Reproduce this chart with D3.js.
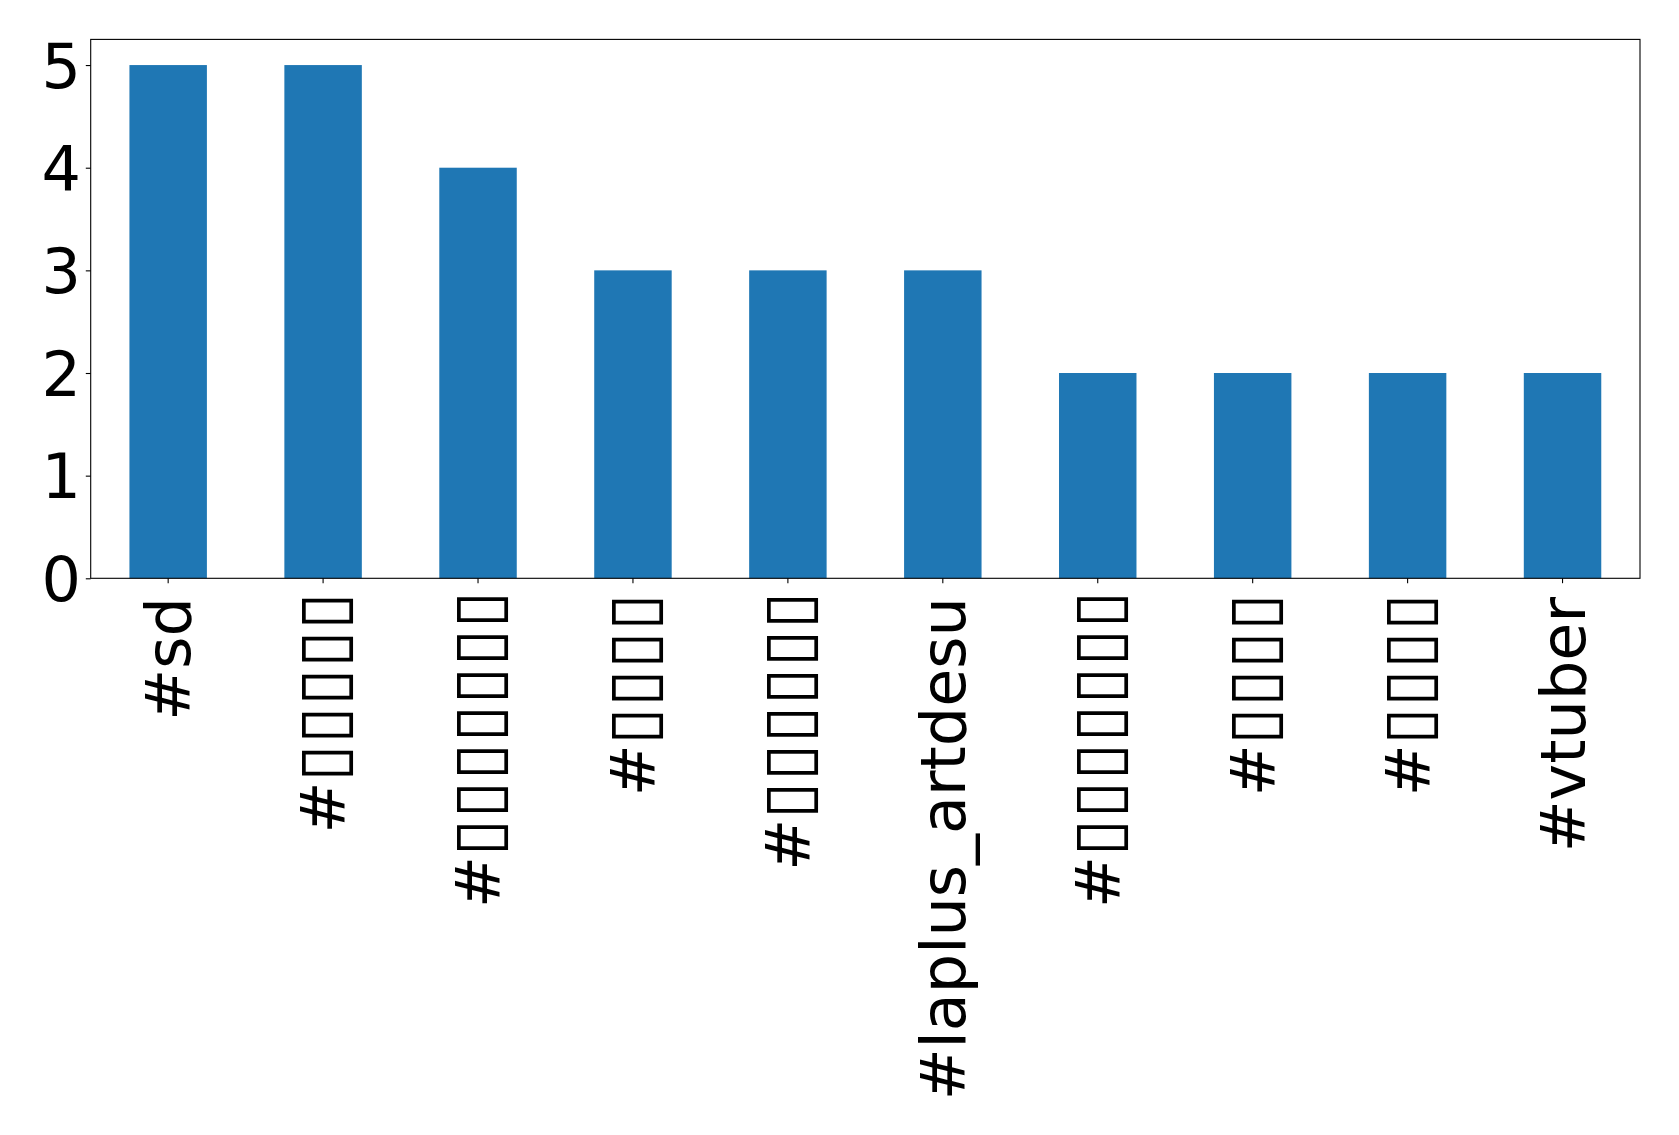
<!DOCTYPE html>
<html>
<head>
<meta charset="utf-8">
<script src="https://cdn.jsdelivr.net/npm/d3@7"></script>
<style>
  html, body { margin: 0; padding: 0; background: #fff; }
  svg { display: block; }
  text { font-family: "DejaVu Sans", sans-serif; fill: #000; }
</style>
</head>
<body>
<script>
const categories = ["#sd", "#▯▯▯▯▯", "#▯▯▯▯▯▯▯", "#▯▯▯▯", "#▯▯▯▯▯▯", "#laplus_artdesu", "#▯▯▯▯▯▯▯", "#▯▯▯▯", "#▯▯▯▯", "#vtuber"];
const values = [5, 5, 4, 3, 3, 3, 2, 2, 2, 2];
const yTicks = [0, 1, 2, 3, 4, 5];

const W = 1679, H = 1135;
const margin = { left: 90.7, right: 39, top: 39.4, bottom: H - 578.3 };
const iw = W - margin.left - margin.right;
const ih = H - margin.top - margin.bottom;
const fontSize = 62;
const boxFont = 67;
const tickLen = 4.9, tickPad = 4.9;
const labelOffset = tickLen + tickPad + 9;

const svg = d3.select("body").append("svg").attr("width", W).attr("height", H);
const g = svg.append("g").attr("transform", `translate(${margin.left},${margin.top})`);

const x = d3.scaleBand().domain(d3.range(categories.length)).range([0, iw]).paddingInner(0.5).paddingOuter(0.25);
const y = d3.scaleLinear().domain([0, 5.25]).range([ih, 0]);

g.selectAll("rect.bar").data(values).join("rect")
  .attr("class", "bar")
  .attr("x", (d, i) => x(i))
  .attr("width", x.bandwidth())
  .attr("y", d => y(d))
  .attr("height", d => y(0) - y(d))
  .attr("fill", "#1f77b4");

const yAxis = g.append("g").call(d3.axisLeft(y).tickValues(yTicks).tickFormat(d3.format("d")).tickSize(tickLen).tickPadding(tickPad));
yAxis.select(".domain").remove();
yAxis.selectAll("line").attr("stroke", "#000").attr("stroke-width", 1.1);
yAxis.selectAll("text").style("font-size", fontSize + "px").attr("font-family", "DejaVu Sans").attr("dy", "0.36em");

const xAxis = g.append("g").attr("transform", `translate(0,${ih})`)
  .call(d3.axisBottom(x).tickFormat(i => categories[i]).tickSize(tickLen).tickPadding(tickPad));
xAxis.select(".domain").remove();
xAxis.selectAll("line").attr("stroke", "#000").attr("stroke-width", 1.1);

// measure the box glyph so that each box advances like a missing-glyph box
const probe = svg.append("text").style("font-size", boxFont + "px").attr("font-family", "DejaVu Sans").text("▯▯▯▯▯▯▯▯▯▯");
const boxAdv = probe.node().getComputedTextLength() / 10;
probe.remove();
const extra = 0.8;
const boxSpacing = 0.6 * fontSize + extra - boxAdv;

xAxis.selectAll("text").each(function (i) {
  const t = d3.select(this);
  const label = categories[i];
  const m = label.match(/^(#)(▯+)$/);
  const off = m ? labelOffset - m[2].length * extra - 1.5 : labelOffset;
  t.text(null)
    .style("font-size", fontSize + "px")
    .attr("font-family", "DejaVu Sans")
    .attr("transform", "rotate(-90)")
    .attr("x", -off)
    .attr("y", 0)
    .attr("dy", "0.36em")
    .style("text-anchor", "end");
  if (m) {
    t.append("tspan").text(m[1]);
    t.append("tspan").style("font-size", boxFont + "px").style("letter-spacing", boxSpacing + "px").text(m[2]);
  } else {
    t.append("tspan").text(label);
  }
});

g.append("rect").attr("x", 0).attr("y", 0).attr("width", iw).attr("height", ih)
  .attr("fill", "none").attr("stroke", "#000").attr("stroke-width", 1.1);
</script>
</body>
</html>
